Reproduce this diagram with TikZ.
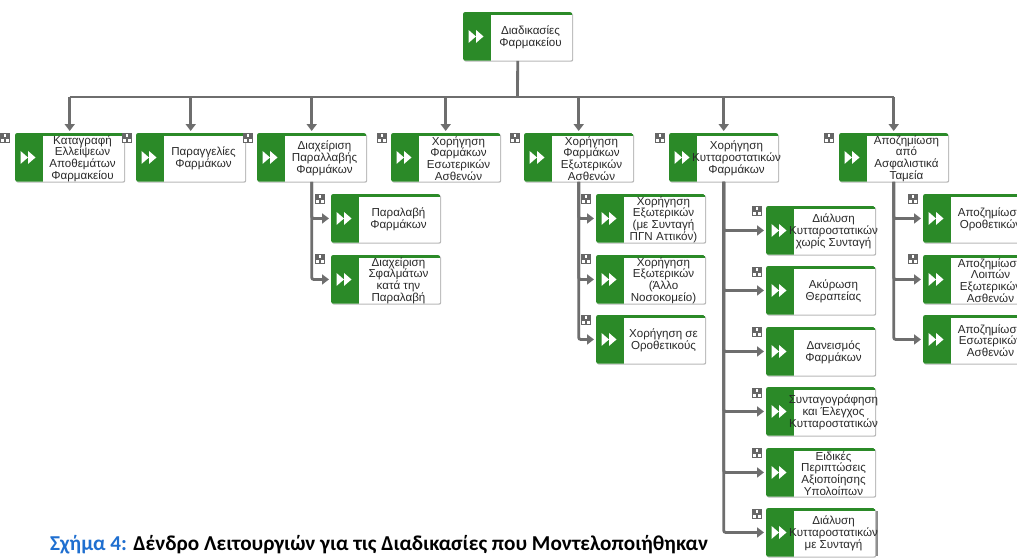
\documentclass[tikz,border=0pt]{standalone}
\usepackage{fontspec}
\setmainfont{Liberation Sans}
\newfontfamily\capfont{Carlito}
\usetikzlibrary{shadows,arrows.meta,calc}
\definecolor{bgreen}{HTML}{2B8A28}
\definecolor{linegray}{HTML}{6E6E6E}
\definecolor{icongray}{HTML}{666666}
\definecolor{txt}{HTML}{2A2A2A}
\definecolor{capblue}{HTML}{1F6FD0}
\tikzset{
  x=1pt,y=-1pt,
  procbox/.style={fill=white,rounded corners=2pt,minimum width=109pt,minimum height=48.5pt,inner sep=0pt,anchor=north west,
    general shadow={shadow xshift=1pt,shadow yshift=-1pt,fill=black!28},
    path picture={
      \fill[bgreen,sharp corners] (path picture bounding box.south west) rectangle ([xshift=28pt]path picture bounding box.north west);
      \fill[bgreen,sharp corners] (path picture bounding box.north west) rectangle ([yshift=-2.5pt]path picture bounding box.north east);
      }},
  proctext/.style={align=center,inner sep=0pt,text=txt,font=\fontsize{11.6}{11.7}\selectfont},
  trunk/.style={draw=linegray,line width=2.8pt,rounded corners=2pt},
  arrowline/.style={draw=linegray,line width=2.8pt,-{Triangle[length=7pt,width=10pt]},rounded corners=2pt,shorten >=2pt},
  subicon/.pic={
    \fill[icongray] (-5,-5) rectangle (5,5);
    \fill[white] (-1.4,-3.6) rectangle (1.4,-1);
    \fill[white] (-3.6,1) rectangle (-1,3.6);
    \fill[white] (1,1) rectangle (3.6,3.6);
  }
}
\newcommand{\proc}[4]{%
  \node[procbox] (#1) at (#2,#3) {};
  \fill[white] ($(#1.west)+(5.5pt,6.5pt)$) -- ($(#1.west)+(13pt,0pt)$) -- ($(#1.west)+(5.5pt,-6.5pt)$) -- cycle;
  \fill[white] ($(#1.west)+(13pt,6.5pt)$) -- ($(#1.west)+(20.5pt,0pt)$) -- ($(#1.west)+(13pt,-6.5pt)$) -- cycle;
  \node[proctext] (#1-t) at ($(#1.north west)+(67.5pt,-25.5pt)$) {#4};
}
\begin{document}
\begin{tikzpicture}
\useasboundingbox (0,0) rectangle (1017,557);
\clip (0,0) rectangle (1017,557);
\fill[white] (0,0) rectangle (1017,557);

\coordinate (bus) at (517.5,97);

% boxes
\proc{root}{463}{12}{Διαδικασίες\\Φαρμακείου}
\proc{a}{15}{133}{Καταγραφή\\Ελλείψεων\\Αποθεμάτων\\Φαρμακείου}
\proc{b}{136}{133}{Παραγγελίες\\Φαρμάκων}
\proc{c}{257}{133}{Διαχείριση\\Παραλλαβής\\Φαρμάκων}
\proc{d}{391}{133}{Χορήγηση\\Φαρμάκων\\Εσωτερικών\\Ασθενών}
\proc{e}{524}{133}{Χορήγηση\\Φαρμάκων\\Εξωτερικών\\Ασθενών}
\proc{f}{669}{133}{Χορήγηση\\Κυτταροστατικών\\Φαρμάκων}
\proc{g}{839}{133}{Αποζημίωση\\από\\Ασφαλιστικά\\Ταμεία}

\proc{c1}{331}{194}{Παραλαβή\\Φαρμάκων}
\proc{c2}{331}{255}{Διαχείριση\\Σφαλμάτων\\κατά την\\Παραλαβή}

\proc{e1}{596}{194}{Χορήγηση\\Εξωτερικών\\(με Συνταγή\\ΠΓΝ Αττικόν)}
\proc{e2}{596}{255}{Χορήγηση\\Εξωτερικών\\(Άλλο\\Νοσοκομείο)}
\proc{e3}{596}{315}{Χορήγηση σε\\Οροθετικούς}

\proc{f1}{766}{206}{Διάλυση\\Κυτταροστατικών\\χωρίς Συνταγή}
\proc{f2}{766}{266}{Ακύρωση\\Θεραπείας}
\proc{f3}{766}{327}{Δανεισμός\\Φαρμάκων}
\proc{f4}{766}{387}{Συνταγογράφηση\\και Έλεγχος\\Κυτταροστατικών}
\proc{f5}{766}{448}{Ειδικές\\Περιπτώσεις\\Αξιοποίησης\\Υπολοίπων}
\fill[black!45] (873,511) rectangle (878,556);
\proc{f6}{766}{508}{Διάλυση\\Κυτταροστατικών\\με Συνταγή}

\proc{g1}{923}{194}{Αποζημίωση\\Οροθετικών}
\proc{g2}{923}{255}{Αποζημίωση\\Λοιπών\\Εξωτερικών\\Ασθενών}
\proc{g3}{923}{315}{Αποζημίωση\\Εσωτερικών\\Ασθενών}

% tree connectors
\draw[trunk] (root.south) -- (bus);
\draw[trunk,line cap=butt] (a.north |- bus) -- (g.north |- bus);
\foreach \n in {a,b,c,d,e,f,g}{
  \draw[arrowline] (\n.north |- bus) -- (\n.north);
}
\foreach \p/\cc in {c/c1,c/c2,e/e1,e/e2,e/e3,f/f1,f/f2,f/f3,f/f4,f/f5,f/f6,g/g1,g/g2,g/g3}{
  \draw[arrowline] (\p.south) |- (\cc.west);
}

% small hierarchy icons
\foreach \ix/\iy in {5/138,127/138,248/138,382/138,515/138,660/138,829/138,
  320/199,320/259,586/199,586/259,586/320,
  757/211,757/272,757/332,757/393,757/453,757/514,
  913/199,913/259}{
  \pic at (\ix,\iy) {subicon};
}

% caption
\node[anchor=base west,inner sep=0pt,font=\capfont\bfseries\fontsize{21.2}{24}\selectfont] (caption) at (50,550)
  {\textcolor{capblue}{Σχήμα 4:} Δένδρο Λειτουργιών για τις Διαδικασίες που Μοντελοποιήθηκαν};
\end{tikzpicture}
\end{document}
